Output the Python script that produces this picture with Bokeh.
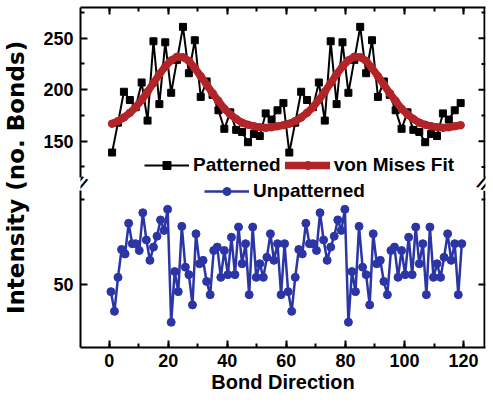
from bokeh.plotting import figure
from bokeh.models import (Range1d, SingleIntervalTicker, FixedTicker, LinearAxis, Legend,
                          LegendItem, Label)
from bokeh.embed import file_html
from bokeh.resources import INLINE

# ---------------- data ----------------
patterned_x = [1, 3, 5, 7, 9, 11, 13, 15, 17, 19, 21, 23, 25, 27, 29, 31, 33, 35, 37, 39,
               41, 43, 45, 47, 49, 51, 53, 55, 57, 59, 61, 63, 65, 67, 69, 71, 73, 75, 77, 79,
               81, 83, 85, 87, 89, 91, 93, 95, 97, 99, 101, 103, 105, 107, 109, 111, 113, 115, 117, 119]
patterned_y = [139, 168, 198, 190, 183, 207, 170, 247, 186, 246, 197, 229, 261, 216, 248,
               193, 208, 195, 180, 162, 178, 161, 159, 149, 157, 155, 177, 171, 180, 187,
               139, 168, 198, 190, 183, 207, 170, 247, 186, 246, 197, 229, 261, 216, 248,
               193, 208, 195, 180, 162, 178, 161, 159, 149, 157, 155, 177, 171, 180, 187]

fit_x = patterned_x
fit_y = [167, 169.5, 173, 177.5, 183, 190, 198, 206.5, 215, 222.5, 228.5, 232, 231.5, 228, 221,
         213, 205, 196.5, 189, 181.5, 176, 171.5, 168, 166, 164.5, 163.5, 163, 163.5, 164.5, 165.5,
         167, 169.5, 173, 177.5, 183, 190, 198, 206.5, 215, 222.5, 228.5, 232, 231.5, 228, 221,
         213, 205, 196.5, 189, 181.5, 176, 171.5, 168, 166, 164.5, 163.5, 163, 163.5, 164.5, 165.5]

unpatterned_x = [0.6, 1.8, 3.0, 4.2, 5.4, 6.6, 7.8, 9.0, 10.2, 11.4, 12.6, 13.8, 15.0, 16.2, 17.4,
                 18.6, 19.8, 21.0, 22.2, 23.4, 24.6, 25.8, 27.0, 28.2, 29.4, 30.6, 31.8, 33.0, 34.2,
                 35.4, 36.6, 37.8, 39.0, 40.2, 41.4, 42.6, 43.8, 45.0, 46.2, 47.4, 48.6, 49.8, 51.0,
                 52.2, 53.4, 54.6, 55.8, 57.0, 58.2, 59.4,
                 60.6, 61.8, 63.0, 64.2, 65.4, 66.6, 67.8, 69.0, 70.2, 71.4, 72.6, 73.8, 75.0, 76.2,
                 77.4, 78.6, 79.8, 81.0, 82.2, 83.4, 84.6, 85.8, 87.0, 88.2, 89.4, 90.6, 91.8, 93.0,
                 94.2, 95.4, 96.6, 97.8, 99.0, 100.2, 101.4, 102.6, 103.8, 105.0, 106.2, 107.4, 108.6,
                 109.8, 111.0, 112.2, 113.4, 114.6, 115.8, 117.0, 118.2, 119.4]
unpatterned_y = [47.9, 42.1, 52.1, 60.3, 59.0, 68.0, 62.0, 62.0, 60.0, 71.1, 63.1, 57.1, 61.0,
                 64.2, 69.0, 65.9, 72.1, 38.9, 53.8, 47.9, 67.1, 55.1, 52.9, 44.0, 64.9, 56.1,
                 57.1, 50.9, 47.0, 60.0, 61.0, 52.1, 60.0, 52.9, 63.9, 52.9, 66.9, 56.1, 62.0,
                 47.0, 66.9, 52.1, 56.1, 52.1, 58.0, 64.9, 57.1, 62.0, 47.0, 62.0,
                 47.9, 42.1, 52.1, 60.3, 59.0, 68.0, 62.0, 62.0, 60.0, 71.1, 63.1, 57.1, 61.0,
                 64.2, 69.0, 65.9, 72.1, 38.9, 53.8, 47.9, 67.1, 55.1, 52.9, 44.0, 64.9, 56.1,
                 57.1, 50.9, 47.0, 60.0, 61.0, 52.1, 60.0, 52.9, 63.9, 52.9, 66.9, 56.1, 62.0,
                 47.0, 66.9, 52.1, 56.1, 52.1, 58.0, 64.9, 57.1, 62.0, 47.0, 62.0]

series_labels = ["Patterned", "von Mises Fit", "Unpatterned"]
x_title = "Bond Direction"
y_title = "Intensity (no. Bonds)"
upper_major = [150, 200, 250]
upper_minor = [125, 175, 225, 275]
lower_major = [50]
lower_minor = [75]

# ---------------- styling ----------------
FONT = "Liberation Sans"
BLACK = "#000000"
RED = "#B22428"
BLUE = "#2B35A5"

W, H = 492, 396
BL, BR, BT, BB = 79, 7, 7, 49          # borders around the frame
FRAME_W = W - BL - BR
FRAME_H = H - BT - BB
PX_PER_DEG = 2.961

# upper panel (patterned) uses the default y range, lower panel (unpatterned) an extra range;
# both span the whole frame, the data of each only reach its own part of it.
xr = Range1d(-9.7, -9.7 + FRAME_W / PX_PER_DEG)
upper = Range1d(279.8 - FRAME_H / 1.03, 279.8)
lower = Range1d(131.47 - FRAME_H / 3.4, 131.47)
upper_break = 114.8   # where the upper axis line stops
lower_break = 77.6    # where the lower axis line starts


def lower_to_upper(v):
    frac = (v - lower.start) / (lower.end - lower.start)
    return round(upper.start + frac * (upper.end - upper.start), 3)


p = figure(width=W, height=H, x_range=xr, y_range=upper,
           output_backend="svg", toolbar_location=None,
           x_axis_location=None, y_axis_location=None,
           min_border_left=BL, min_border_right=BR, min_border_top=BT, min_border_bottom=BB)
p.extra_y_ranges = {"lower": lower}
p.outline_line_color = None
p.background_fill_color = "white"
p.border_fill_color = "white"
for g in p.grid:
    g.visible = False


def tick_style(ax):
    ax.major_tick_in = 7
    ax.major_tick_out = 0
    ax.minor_tick_in = 4
    ax.minor_tick_out = 0
    ax.major_tick_line_width = 2
    ax.minor_tick_line_width = 2
    ax.major_tick_line_color = BLACK
    ax.minor_tick_line_color = BLACK
    ax.major_label_text_font = FONT
    ax.major_label_text_font_style = "bold"
    ax.major_label_text_color = BLACK
    ax.major_label_text_font_size = "18px"


def line_only(rng_name, bounds):
    ax = LinearAxis(y_range_name=rng_name, bounds=bounds, ticker=FixedTicker(ticks=[]))
    ax.axis_line_width = 2
    ax.axis_line_color = BLACK
    ax.major_tick_in = 0
    ax.major_tick_out = 0
    ax.minor_tick_in = 0
    ax.minor_tick_out = 0
    ax.major_label_standoff = 0
    return ax


# left vertical axis line, broken between the panels
p.add_layout(line_only("default", (upper_break, upper.end)), "left")
p.add_layout(line_only("lower", (lower.start, lower_break)), "left")

# ticks + labels for both panels on one left axis, which also carries the y title
y_ticks = upper_major + [lower_to_upper(v) for v in lower_major]
y_minor = upper_minor + [lower_to_upper(v) for v in lower_minor]
overrides = {t: str(t) for t in upper_major}
for v in lower_major:
    overrides[lower_to_upper(v)] = str(v)

left_ax = LinearAxis(ticker=FixedTicker(ticks=y_ticks, minor_ticks=y_minor),
                     major_label_overrides=overrides, axis_label=y_title)
tick_style(left_ax)
left_ax.axis_line_color = None
left_ax.major_label_standoff = 7
left_ax.axis_label_standoff = 11
left_ax.axis_label_text_font = "DejaVu Sans"
left_ax.axis_label_text_font_style = "bold"
left_ax.axis_label_text_font_size = "23px"
left_ax.axis_label_text_color = BLACK
p.add_layout(left_ax, "left")

# x axes
top_ax = LinearAxis(ticker=SingleIntervalTicker(interval=20, num_minor_ticks=2))
tick_style(top_ax)
top_ax.axis_line_width = 2
top_ax.axis_line_color = BLACK
top_ax.major_label_text_color = None
top_ax.major_label_text_font_size = "1px"
top_ax.major_label_standoff = 0
p.add_layout(top_ax, "above")

bot_ax = LinearAxis(ticker=SingleIntervalTicker(interval=20, num_minor_ticks=2), axis_label=x_title)
tick_style(bot_ax)
bot_ax.axis_line_width = 2
bot_ax.axis_line_color = BLACK
bot_ax.major_label_standoff = 6
bot_ax.axis_label_standoff = 1
bot_ax.axis_label_text_font = FONT
bot_ax.axis_label_text_font_style = "bold"
bot_ax.axis_label_text_font_size = "20px"
bot_ax.axis_label_text_color = BLACK
p.add_layout(bot_ax, "below")

# right-hand frame side: line pieces and inward ticks, drawn at the end of the x range
x_edge = xr.end - 1.0 / PX_PER_DEG
x_major = xr.end - 7.0 / PX_PER_DEG
x_minor = xr.end - 4.0 / PX_PER_DEG
frame_kw = dict(line_color=BLACK, line_width=2)
p.segment(x0=[x_edge], y0=[upper_break], x1=[x_edge], y1=[upper.end], **frame_kw)
p.segment(x0=[x_edge], y0=[lower.start], x1=[x_edge], y1=[lower_break], y_range_name="lower", **frame_kw)
p.segment(x0=[xr.end] * len(upper_major), y0=upper_major, x1=[x_major] * len(upper_major),
          y1=upper_major, **frame_kw)
p.segment(x0=[xr.end] * len(upper_minor), y0=upper_minor, x1=[x_minor] * len(upper_minor),
          y1=upper_minor, **frame_kw)
p.segment(x0=[xr.end] * len(lower_major), y0=lower_major, x1=[x_major] * len(lower_major),
          y1=lower_major, y_range_name="lower", **frame_kw)
p.segment(x0=[xr.end] * len(lower_minor), y0=lower_minor, x1=[x_minor] * len(lower_minor),
          y1=lower_minor, y_range_name="lower", **frame_kw)

# ---------------- data glyphs ----------------
pl = p.line(patterned_x, patterned_y, line_color=BLACK, line_width=2)
ps = p.scatter(patterned_x, patterned_y, marker="square", size=7, fill_color=BLACK, line_color=BLACK)
fl = p.line(fit_x, fit_y, line_color=RED, line_width=7.5, line_cap="round", line_join="round")
fs = p.scatter(fit_x, fit_y, marker="circle", size=7.5, fill_color=RED, line_color=RED)
ul = p.line(unpatterned_x, unpatterned_y, y_range_name="lower", line_color=BLUE, line_width=2.5)
us = p.scatter(unpatterned_x, unpatterned_y, y_range_name="lower", marker="circle", size=8,
               fill_color=BLUE, line_color=BLUE)

leg_common = dict(orientation="horizontal", glyph_width=45, glyph_height=20, label_standoff=4,
                  spacing=4, padding=0, margin=0, border_line_color=None, background_fill_alpha=0,
                  label_text_font=FONT, label_text_font_style="bold", label_text_font_size="19px",
                  label_text_color=BLACK)
# legend rows: bottoms at y = 176 and 202 px from the top of the picture
leg1 = Legend(items=[LegendItem(label=series_labels[0], renderers=[pl, ps]),
                     LegendItem(label=series_labels[1], renderers=[fl, fs])],
              location=(64, BT + FRAME_H - 176), **leg_common)
leg2 = Legend(items=[LegendItem(label=series_labels[2], renderers=[ul, us])],
              location=(124, BT + FRAME_H - 202), **leg_common)
p.add_layout(leg1)
p.add_layout(leg2)

# axis-break marks on both vertical axes (centred 183 px from the top)
for sx in (0, FRAME_W - 3):
    p.add_layout(Label(x=sx, y=BT + FRAME_H - 183, x_units="screen", y_units="screen", text="//",
                       angle=-30, angle_units="deg", text_align="center", text_baseline="middle",
                       text_font=FONT, text_font_style="bold", text_font_size="18px",
                       text_color=BLACK))

with open("out.html", "w") as f:
    f.write(file_html(p, INLINE))
